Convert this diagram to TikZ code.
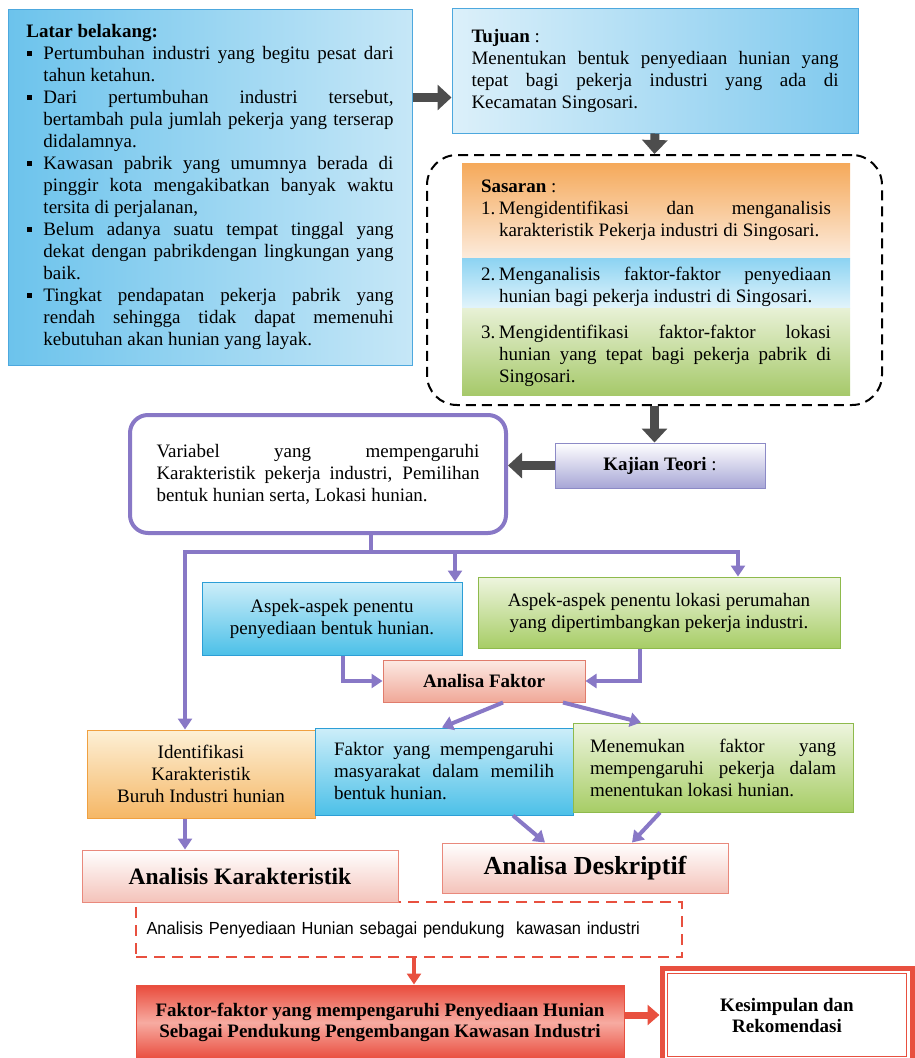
\documentclass[tikz,border=0pt]{standalone}
\usepackage{fontspec}
\setmainfont{Liberation Serif}
\newfontfamily\narrowsans[FakeStretch=0.94]{Liberation Sans}
\usetikzlibrary{arrows.meta,calc,positioning}

\definecolor{latarL}{HTML}{6CC3EC}
\definecolor{latarR}{HTML}{C6E7F7}
\definecolor{latarEdge}{HTML}{4DA8DE}
\definecolor{tujuanL}{HTML}{DCF0FA}
\definecolor{tujuanR}{HTML}{7FC9EE}
\definecolor{orangeT}{HTML}{F5A95A}
\definecolor{orangeB}{HTML}{FCEBDC}
\definecolor{blueT}{HTML}{8CD3F2}
\definecolor{blueB}{HTML}{E2F4FB}
\definecolor{greenT}{HTML}{E8F1D6}
\definecolor{greenB}{HTML}{A6C96A}
\definecolor{kajianB}{HTML}{A7A6D6}
\definecolor{kajianEdge}{HTML}{8C8AC6}
\definecolor{violet}{HTML}{8878C6}
\definecolor{cyanT}{HTML}{CDEEF9}
\definecolor{cyanB}{HTML}{4CC0E8}
\definecolor{cyanEdge}{HTML}{2C9ED6}
\definecolor{leafT}{HTML}{EEF5DF}
\definecolor{leafB}{HTML}{A7CD66}
\definecolor{leafEdge}{HTML}{8EBA4C}
\definecolor{salmonT}{HTML}{FCEAE4}
\definecolor{salmonB}{HTML}{F0A898}
\definecolor{salmonEdge}{HTML}{E07C6C}
\definecolor{amberT}{HTML}{FDF0D6}
\definecolor{amberB}{HTML}{F5B766}
\definecolor{amberEdge}{HTML}{F0A040}
\definecolor{pinkB}{HTML}{F4C3BA}
\definecolor{pinkEdge}{HTML}{E9897C}
\definecolor{redLine}{HTML}{E8503F}
\definecolor{redT}{HTML}{E94A3B}
\definecolor{redM}{HTML}{F7ABA1}
\definecolor{darkArrow}{HTML}{4D4D4D}

\newcommand{\latarpoint}[1]{\par\noindent\hangindent=17pt\hangafter=1\makebox[17pt][l]{\raisebox{4pt}{\rule{5pt}{5pt}}}#1\par}
\newcommand{\sasaranpoint}[2]{\par\noindent\hangindent=18pt\hangafter=1\makebox[18pt][l]{#1}#2\par}

\begin{document}
\begin{tikzpicture}[x=1pt, y=-1pt,
  every node/.style={inner sep=0pt, font=\fontsize{19}{22}\selectfont},
  panel/.style 2 args={rectangle, minimum width=#1pt, minimum height=#2pt},
  blockarrow/.style={draw=darkArrow, line width=9pt, -{Triangle[width=25pt,length=14pt]}},
  violetline/.style={draw=violet, line width=4pt},
  violetarrow/.style={violetline, -{Triangle[width=14pt,length=11pt]}},
  redarrow/.style={draw=redLine, line width=3.5pt, -{Triangle[width=14pt,length=11pt]}},
  redthick/.style={draw=redLine, line width=7pt, -{Triangle[width=20pt,length=12pt]}},
  pinkbox/.style={top color=white, bottom color=pinkB, draw=pinkEdge, line width=1pt}]
\useasboundingbox (0,0) rectangle (915,1058);
\clip (0,0) rectangle (915,1058);

% top row
\node[panel={404}{356}, left color=latarL, right color=latarR, draw=latarEdge, line width=1pt,
      text width=367pt, align=justify] (latar) at (210,187) {%
  \textbf{Latar belakang:}
  \latarpoint{Pertumbuhan industri yang begitu pesat dari\linebreak tahun ketahun.}
  \latarpoint{Dari pertumbuhan industri tersebut,\linebreak bertambah pula jumlah pekerja yang terserap\linebreak didalamnya.}
  \latarpoint{Kawasan pabrik yang umumnya berada di\linebreak pinggir kota mengakibatkan banyak waktu\linebreak tersita di perjalanan,}
  \latarpoint{Belum adanya suatu tempat tinggal yang\linebreak dekat dengan pabrikdengan lingkungan yang\linebreak baik.}
  \latarpoint{Tingkat pendapatan pekerja pabrik yang\linebreak rendah sehingga tidak dapat memenuhi\linebreak kebutuhan akan hunian yang layak.}};
\node[panel={406}{125}, left color=tujuanL, right color=tujuanR, draw=latarEdge, line width=1pt,
      text width=367pt, align=justify] (tujuan) at (655,70.5) {%
  \textbf{Tujuan} :\par
  Menentukan bentuk penyediaan hunian yang\linebreak tepat bagi pekerja industri yang ada di\linebreak Kecamatan Singosari.};
\coordinate (tujuanIn) at ([yshift=36pt]tujuan.south west);

% sasaran
\node[panel={455}{250}, draw, dashed, dash pattern=on 10pt off 6pt, line width=2pt,
      rounded corners=30pt] (sasaran) at (654.5,280) {};
\node[panel={388}{95}, top color=orangeT, bottom color=orangeB, text width=350pt, align=justify] (sasaran1) at (656,210.5) {%
  \textbf{Sasaran} :\par
  \sasaranpoint{1.}{Mengidentifikasi dan menganalisis\linebreak karakteristik Pekerja industri di Singosari.}};
\node[panel={388}{50}, top color=blueT, bottom color=blueB, text width=350pt, align=justify] (sasaran2) at (656,283) {%
  \sasaranpoint{2.}{Menganalisis faktor-faktor penyediaan\linebreak hunian bagi pekerja industri di Singosari.}};
\node[panel={388}{87}, top color=greenT, bottom color=greenB, text width=350pt, align=justify] (sasaran3) at (656,351.5) {%
  \sasaranpoint{3.}{Mengidentifikasi faktor-faktor lokasi\linebreak hunian yang tepat bagi pekerja pabrik di\linebreak Singosari.}};

% kajian teori
\node[panel={210}{45}, top color=white, bottom color=kajianB, draw=kajianEdge, line width=1pt] (kajian) at (660,465.5) {\textbf{Kajian Teori} :};
\node[panel={376}{118}, fill=white, draw=violet, line width=4pt, rounded corners=18pt,
      text width=323pt, align=justify] (variabel) at (318,474) {%
  Variabel yang mempengaruhi\linebreak Karakteristik pekerja industri, Pemilihan\linebreak bentuk hunian serta, Lokasi hunian.};

% aspek
\node[panel={260}{73}, top color=cyanT, bottom color=cyanB, draw=cyanEdge, line width=1pt, align=center] (aspek1) at (332,618.5) {Aspek-aspek penentu\\penyediaan bentuk hunian.};
\node[panel={362}{71}, top color=leafT, bottom color=leafB, draw=leafEdge, line width=1pt, align=center] (aspek2) at (659,612.5) {Aspek-aspek penentu lokasi perumahan\\yang dipertimbangkan pekerja industri.};
\node[panel={202}{42}, top color=salmonT, bottom color=salmonB, draw=salmonEdge, line width=1pt] (analisa) at (484,681) {\textbf{Analisa Faktor}};

% faktor
\node[panel={228}{88}, top color=amberT, bottom color=amberB, draw=amberEdge, line width=1pt, align=center] (identifikasi) at (201,774) {Identifikasi\\Karakteristik\\Buruh Industri hunian};
\node[panel={258}{87}, top color=cyanT, bottom color=cyanB, draw=cyanEdge, line width=1pt, text width=220pt, align=justify] (faktor) at (444,771.5) {%
  Faktor yang mempengaruhi\linebreak masyarakat dalam memilih\linebreak bentuk hunian.};
\node[panel={280}{89}, top color=leafT, bottom color=leafB, draw=leafEdge, line width=1pt, text width=246pt, align=justify] (menemukan) at (713,767.5) {%
  Menemukan faktor yang\linebreak mempengaruhi pekerja dalam\linebreak menentukan lokasi hunian.};

% analisis
\node[panel={546}{55}, draw=redLine, dashed, dash pattern=on 11pt off 7pt, line width=2.5pt,
      text width=525pt, align=left, font=\narrowsans\fontsize{17.5}{20}\selectfont] (pendukung) at (409,929.5) {Analisis Penyediaan Hunian sebagai pendukung~ kawasan industri};
\node[panel={316}{52}, pinkbox, font=\bfseries\fontsize{23.5}{26}\selectfont] (karakteristik) at (240,876) {Analisis Karakteristik};
\node[panel={286}{50}, pinkbox, font=\bfseries\fontsize{26}{28}\selectfont] (deskriptif) at (585,868) {Analisa Deskriptif};
\node[panel={488}{75}, top color=redT, bottom color=redT, middle color=redM, draw=redLine, line width=1pt,
      align=center, font=\bfseries\fontsize{19}{21}\selectfont] (faktorfaktor) at (380,1022.5) {Faktor-faktor yang mempengaruhi Penyediaan Hunian\\Sebagai Pendukung Pengembangan Kawasan Industri};
\node[panel={250}{94}, fill=white, draw=redLine, line width=5pt, align=center,
      font=\bfseries\fontsize{19}{21}\selectfont] (kesimpulan) at (787,1015) {Kesimpulan dan\\Rekomendasi};
\draw[redLine, line width=1.5pt] ([shift={(8pt,-8pt)}]kesimpulan.north west) rectangle ([shift={(-8pt,8pt)}]kesimpulan.south east);

% arrows
\draw[blockarrow] (latar.east |- tujuanIn) -- (tujuanIn);
\draw[blockarrow] (tujuan.south) -- (sasaran.north);
\draw[blockarrow] (sasaran.south) -- (sasaran.south |- kajian.north);
\draw[blockarrow] (kajian.west) -- (kajian.west -| variabel.east);

\coordinate (hubS) at (371,552);
\coordinate (hubL) at (185,552);
\coordinate (hubM) at (455,552);
\coordinate (hubR) at (738,552);
\draw[violetline] (variabel.south -| hubS) -- (hubS);
\draw[violetline, {Triangle[width=14pt,length=11pt]}-{Triangle[width=14pt,length=11pt]}]
  (hubL |- identifikasi.north) -- (hubL) -- (hubR) -- (hubR |- aspek2.north);
\draw[violetarrow] (hubM) -- (hubM |- aspek1.north);
\draw[violetarrow] ([xshift=11pt]aspek1.south) |- (analisa.west);
\draw[violetarrow] ([xshift=-19pt]aspek2.south) |- (analisa.east);
\draw[violetarrow] ([xshift=19pt]analisa.south) -- ([xshift=-2pt]faktor.north);
\draw[violetarrow] ([xshift=79pt]analisa.south) -- ([xshift=-72pt]menemukan.north);
\draw[violetarrow] (identifikasi.south -| hubL) -- (hubL |- karakteristik.north);
\draw[violetarrow] ([xshift=69pt]faktor.south) -- ([xshift=-40pt]deskriptif.north);
\draw[violetarrow] ([xshift=-53pt]menemukan.south) -- ([xshift=47pt]deskriptif.north);

\coordinate (pendukungOut) at ([xshift=5pt]pendukung.south);
\draw[redarrow] (pendukungOut) -- (pendukungOut |- faktorfaktor.north);
\draw[redthick] (kesimpulan.west -| faktorfaktor.east) -- (kesimpulan.west);
\end{tikzpicture}
\end{document}
